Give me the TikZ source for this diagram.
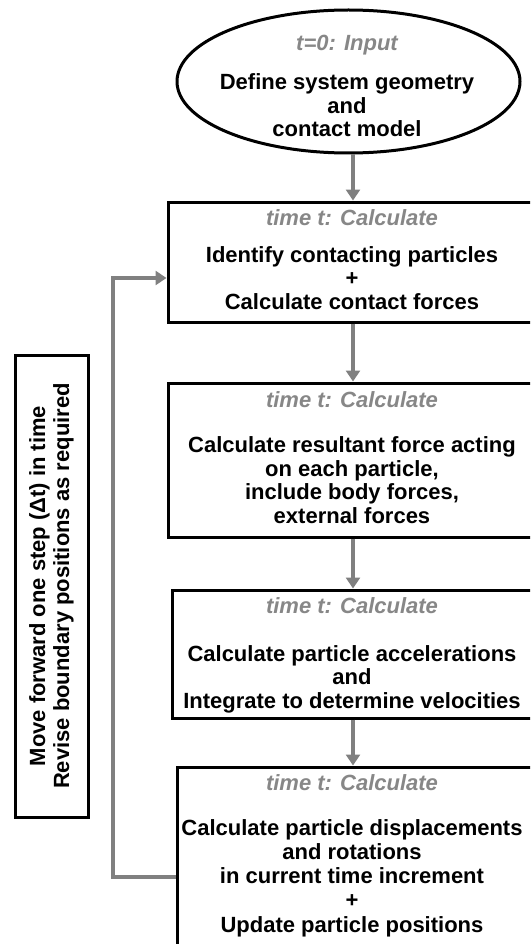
\documentclass[tikz,border=0pt]{standalone}
\usepackage{fontspec}
\setmainfont{Liberation Sans}
\usetikzlibrary{shapes.geometric,arrows.meta}
\definecolor{linegray}{RGB}{128,128,128}
\definecolor{titlegray}{RGB}{135,135,135}
\begin{document}
\begin{tikzpicture}[x=1pt,y=-1pt,
  boxnode/.style={draw=black,line width=3pt,rectangle,inner sep=0pt,fill=white},
  txt/.style={font=\fontsize{22}{23.5}\selectfont\bfseries,align=center,inner sep=0pt,anchor=base},
  ttl/.style={font=\fontsize{22}{23.5}\selectfont\bfseries\itshape,text=titlegray,inner sep=0pt,anchor=base},
  arr/.style={draw=linegray,line width=4pt,-{Triangle[length=11pt,width=14pt]}}]
\useasboundingbox (0,0) rectangle (530,944);
\clip (0,0) rectangle (530,944);
% shapes
\node[ellipse,draw=black,line width=3pt,inner sep=0pt,minimum width=343pt,minimum height=143pt] (ell) at (348.5,81.5) {};
\node[boxnode,minimum width=372pt,minimum height=120pt] (box1) at (354,262) {};
\node[boxnode,minimum width=372pt,minimum height=154pt] (box2) at (354,460) {};
\node[boxnode,minimum width=368pt,minimum height=128pt] (box3) at (356,654) {};
\node[boxnode,minimum width=363pt,minimum height=198pt] (box4) at (358.5,866) {};
\node[boxnode,rotate=90,minimum width=462pt,minimum height=73pt,align=center,
      font=\fontsize{22}{24}\selectfont\bfseries] (side) at (51.5,586)
  {Move forward one step (Δt) in time\\Revise boundary positions as required};
% texts (body nodes anchored at the baseline of their last line)
\node[ttl] (t0) at (347,51) {t=0: Input};
\node[txt] (b0) at (347,137) {Define system geometry\\and\\contact model};
\node[ttl] (t1) at (352,225) {time t: Calculate};
\node[txt] (b1) at (352,309) {Identify contacting particles\\+\\Calculate contact forces};
\node[ttl] (t2) at (352,407) {time t: Calculate};
\node[txt] (b2) at (352,523) {Calculate resultant force acting\\on each particle,\\include body forces,\\external forces};
\node[ttl] (t3) at (352,613) {time t: Calculate};
\node[txt] (b3) at (352,708) {Calculate particle accelerations\\and\\Integrate to determine velocities};
\node[ttl] (t4) at (352,790) {time t: Calculate};
\node[txt,font=\fontsize{22}{24.2}\selectfont\bfseries] (b4) at (352,932) {Calculate particle displacements\\and rotations\\in current time increment\\+\\Update particle positions};
% connectors
\coordinate (ax) at (353,0);
\coordinate (lp) at (113,0);
\coordinate (lout) at (0,877);
\coordinate (lin) at (0,278);
\draw[arr] (ell.south -| ax) -- (box1.north -| ax);
\draw[arr] (box1.south -| ax) -- (box2.north -| ax);
\draw[arr] (box2.south -| ax) -- (box3.north -| ax);
\draw[arr] (box3.south -| ax) -- (box4.north -| ax);
\draw[arr] (box4.west |- lout) -- (lp |- lout) -- (lp |- lin) -- (box1.west |- lin);
\end{tikzpicture}
\end{document}
